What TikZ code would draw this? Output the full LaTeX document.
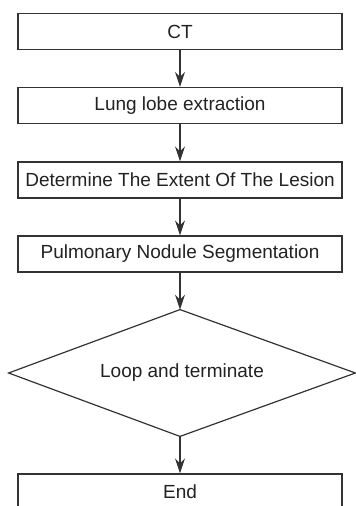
\documentclass[tikz,border=0pt]{standalone}
\usepackage{fontspec}
\setmainfont{Liberation Sans}
\usepackage{xcolor}
\usetikzlibrary{arrows.meta}

\definecolor{linegray}{HTML}{333333}
\definecolor{textgray}{HTML}{222222}

\tikzset{
    stepbox/.style={draw=linegray,line width=0.6pt,text=textgray,minimum width=162pt,minimum height=18pt,inner sep=0pt,font=\fontsize{9.5}{11}\selectfont},
    loopbox/.style={text=textgray,minimum width=173pt,minimum height=63pt,inner sep=0pt,font=\fontsize{9.5}{11}\selectfont},
    flow/.style={draw=linegray,line width=0.6pt,-{Stealth[length=7.5pt,width=5pt,inset=2.5pt]}}
}

\begin{document}
\begin{tikzpicture}[x=0.5pt,y=0.5pt]
        \useasboundingbox (0,0) rectangle (355,-506);

        \node[stepbox] (ct) at (180,-31.5) {CT};
        \node[stepbox] (lobe) at (180,-105.5) {Lung lobe extraction};
        \node[stepbox] (extent) at (180,-180) {Determine The Extent Of The Lesion};
        \node[stepbox] (seg) at (180,-254) {Pulmonary Nodule Segmentation};
        \node[loopbox] (loop) at (182,-373) {Loop and terminate};
        \node[stepbox] (end) at (180,-492) {End};

        % the decision diamond
        \draw[linegray,line width=0.6pt,line join=miter] (loop.north-|seg)--(loop.east)--(loop.south-|seg)--(loop.west)--cycle;

        \draw[flow] (ct)--(lobe);
        \draw[flow] (lobe)--(extent);
        \draw[flow] (extent)--(seg);
        \draw[flow] (seg)--(seg|-loop.north);
        \draw[flow] (loop.south-|end)--(end);
    \end{tikzpicture}
\end{document}
